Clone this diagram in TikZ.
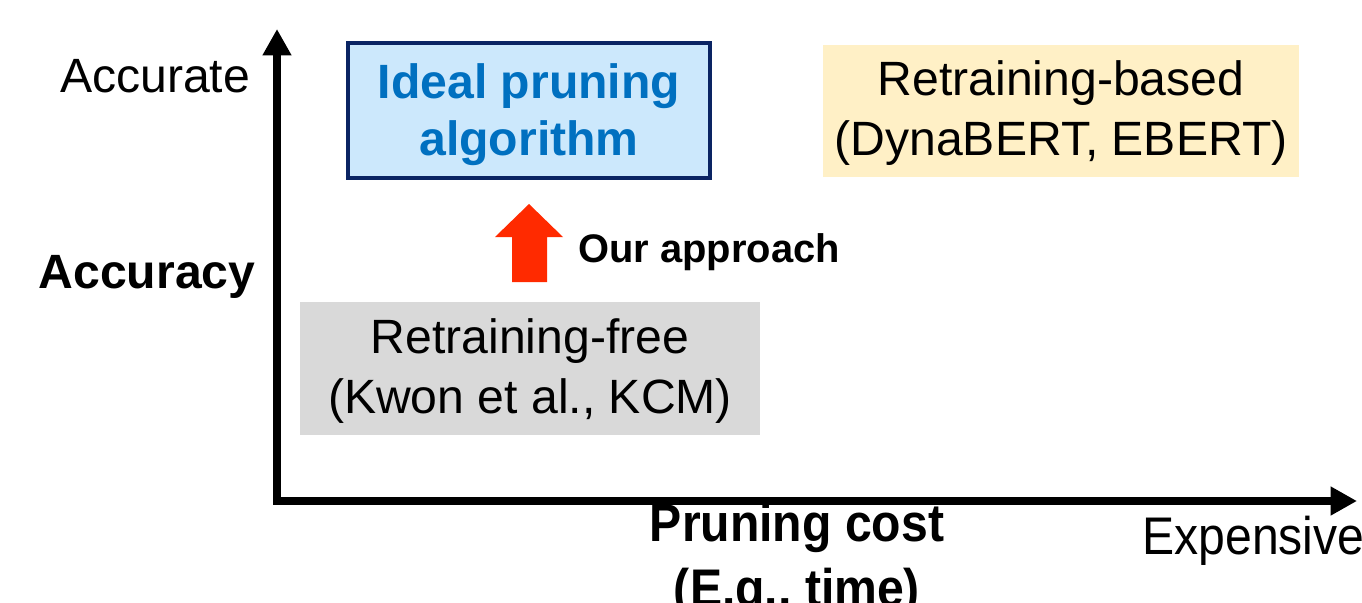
\documentclass[tikz,border=0pt]{standalone}
\usepackage{fontspec}
\setmainfont{Liberation Sans}
\usetikzlibrary{arrows.meta}
\definecolor{navy}{HTML}{0A2463}
\definecolor{idealfill}{HTML}{CCE8FC}
\definecolor{idealtext}{HTML}{0070C0}
\definecolor{basedfill}{HTML}{FFF0C6}
\definecolor{freefill}{HTML}{D9D9D9}
\definecolor{upred}{HTML}{FF2A00}
\tikzset{
  bigtxt/.style={font=\fontsize{27.4}{32.5}\selectfont, inner sep=0pt, align=center},
  bigbold/.style={font=\fontsize{27.4}{34}\selectfont\bfseries, inner sep=0pt, align=center},
  box/.style={inner sep=0pt},
  boxtxt/.style={inner sep=0pt, align=center},
  axis/.style={line width=4.5pt, line join=miter,
    {Triangle[width=15.5pt,length=15pt]}-{Triangle[width=15.5pt,length=15pt]}},
}
\begin{document}
\begin{tikzpicture}[x=0.02cm,y=-0.02cm]
\useasboundingbox (0,0) rectangle (1362,602);
% axes
\coordinate (ytop) at (277,29);
\coordinate (orig) at (277,501);
\coordinate (xend) at (1357,501);
\draw[axis] (ytop) -- (orig) -- (xend);
% boxes
\node[box, draw=navy, line width=2.3pt, fill=idealfill,
  minimum width=362*0.02cm, minimum height=135*0.02cm] (ideal) at (529,110.5) {};
\node[boxtxt, font=\fontsize{27.4}{32.5}\selectfont\bfseries, text=idealtext]
  (idealtxt) at ([yshift=-0.08cm]ideal.center) {Ideal pruning\\algorithm};
\node[box, fill=basedfill, minimum width=476*0.02cm, minimum height=132*0.02cm] (based) at (1061,110.5) {};
\node[boxtxt, font=\fontsize{27.4}{34}\selectfont]
  (basedtxt) at ([yshift=-0.05cm]based.center) {Retraining-based\\(DynaBERT, EBERT)};
\node[box, fill=freefill, minimum width=460*0.02cm, minimum height=133*0.02cm] (free) at (530,368.5) {};
\node[boxtxt, font=\fontsize{27.4}{34}\selectfont]
  (freetxt) at ([yshift=-0.05cm]free.center) {Retraining-free\\(Kwon et al., KCM)};
% red arrow
\fill[upred] (512,282) -- (547,282) -- (547,237) -- (563,237) -- (529,204) -- (495,237) -- (512,237) -- cycle;
\node[font=\fontsize{22.7}{27}\selectfont\bfseries, inner sep=0pt, anchor=west] (our) at (578,252) {Our approach};
% axis labels
\node[bigtxt] (accurate) at (155,76) {Accurate};
\node[bigbold] (accuracy) at (147,277) {Accuracy};
\node[bigbold, yscale=1.1] (cost) at (797,560.5) {Pruning cost\\(E.g., time)};
\node[bigtxt, anchor=west, yscale=1.1] (exp) at (1142,541) {Expensive};
\end{tikzpicture}
\end{document}
